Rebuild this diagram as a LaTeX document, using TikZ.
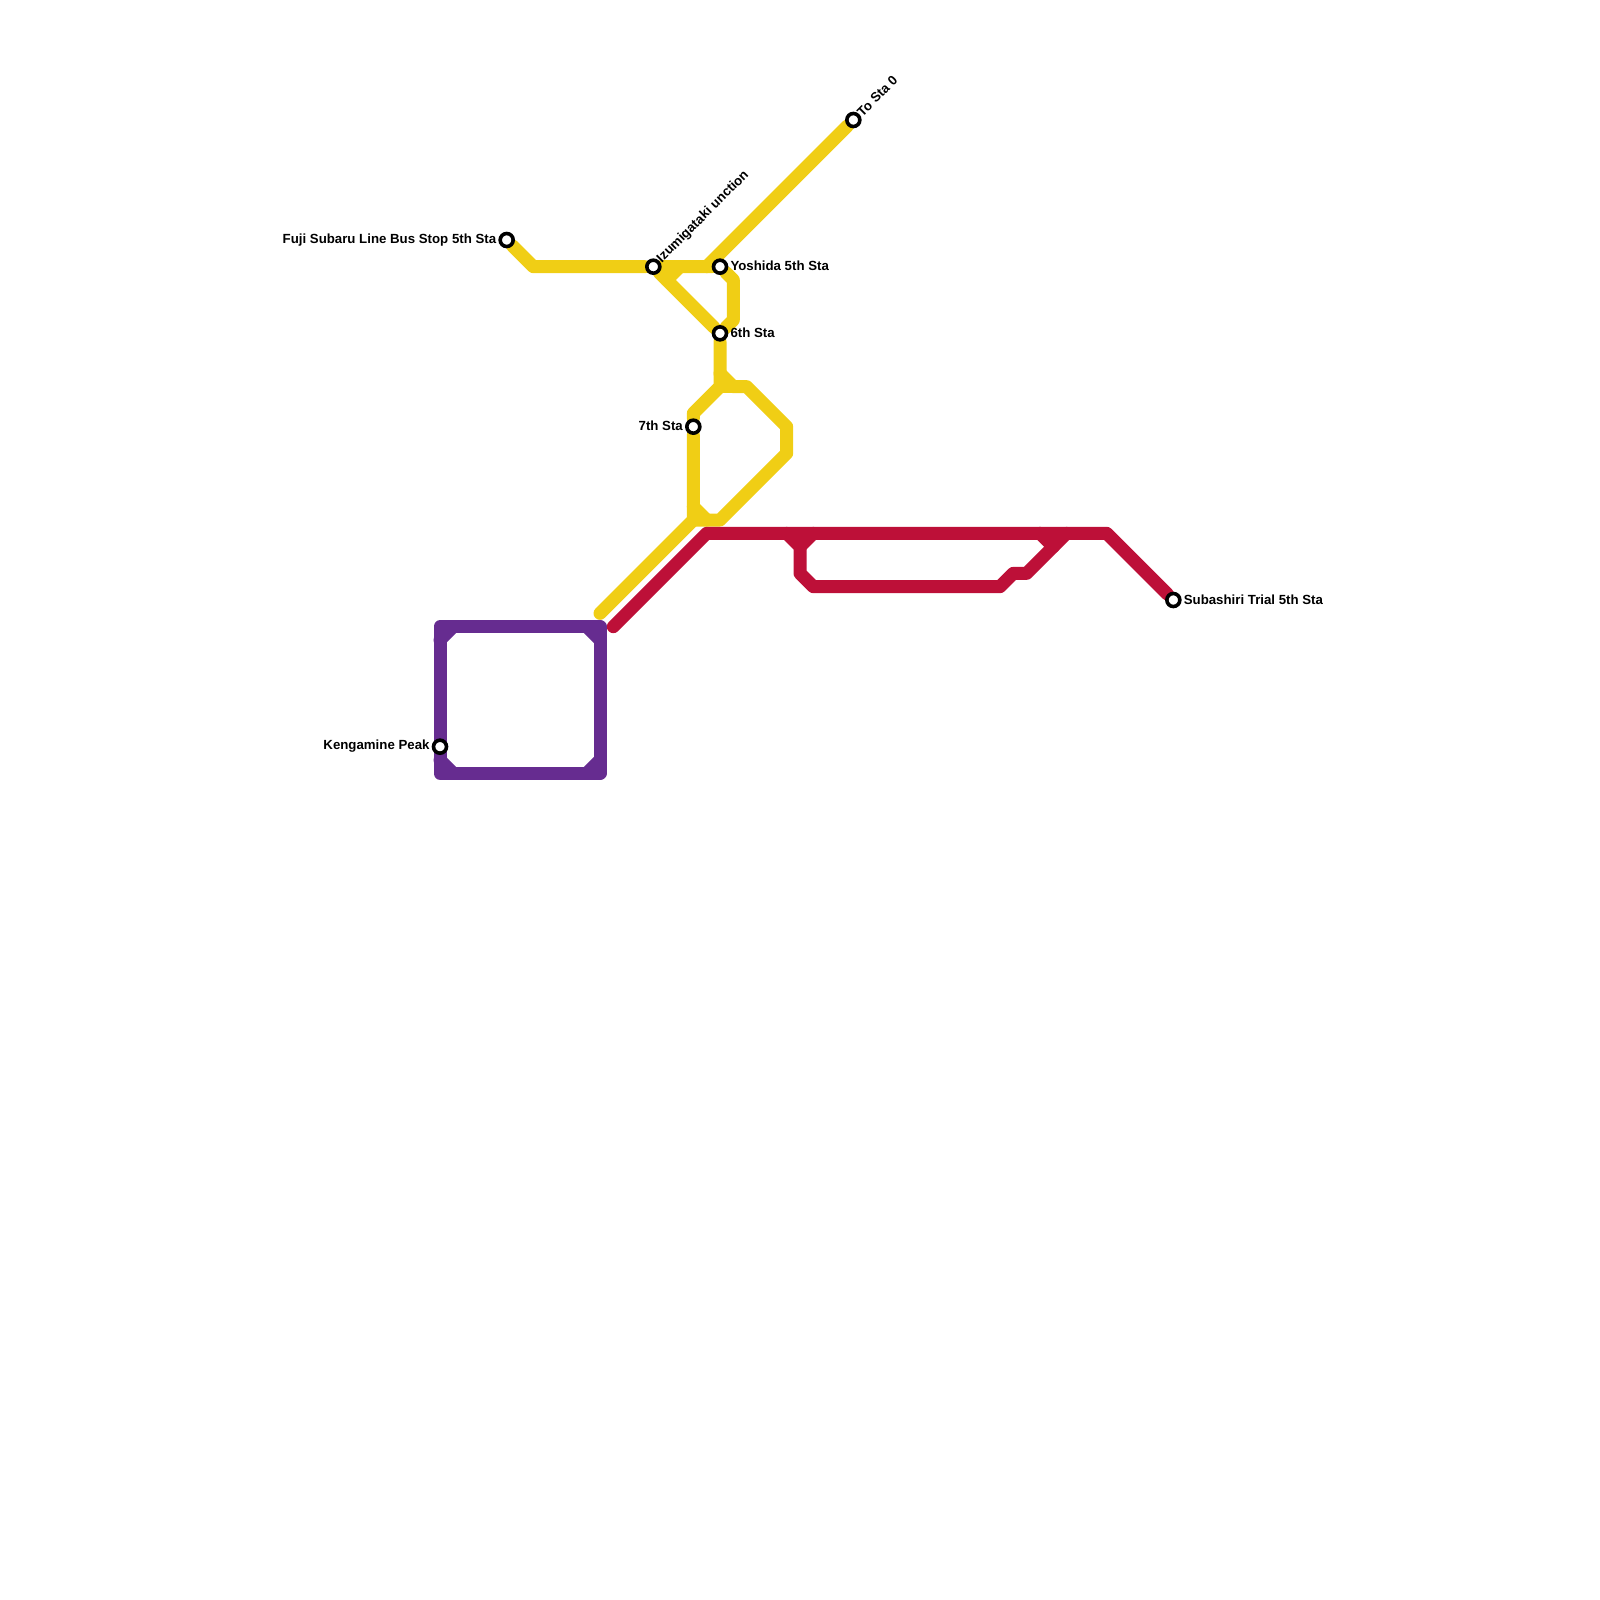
\documentclass[tikz,border=0pt]{standalone}
\usepackage{fontspec}
\setmainfont{Liberation Sans}
\usetikzlibrary{positioning,backgrounds}
\tikzset{
	station/.style={
		draw=black, circle, fill=white, line width=3.6pt,
		minimum size=13pt, inner sep=0pt
	},
	stationlabel/.style={
		inner sep=0pt, text=black, font=\bfseries\fontsize{13.25}{13.25}\selectfont
	},
	transit/.style={line width=13pt, line cap=round, line join=round},
	yellowline/.style={transit, draw=lineyellow},
	redline/.style={transit, draw=linered},
	purpleline/.style={transit, draw=linepurple}
}
\definecolor{lineyellow}{HTML}{F0CE15}
\definecolor{linered}{HTML}{BD1038}
\definecolor{linepurple}{HTML}{662C90}
\begin{document}
\begin{tikzpicture}[x=13.3333pt,y=-13.3333pt]
	\useasboundingbox (0,0) rectangle (120,120);
	\node[station] (fuji) at (38,18) {};
	\node[station] (izumi) at (49,20) {};
	\node[station] (yoshida) at (54,20) {};
	\node[station] (sixth) at (54,25) {};
	\node[station] (seventh) at (52,32) {};
	\node[station] (tosta) at (64,9) {};
	\node[station] (kengamine) at (33,56) {};
	\node[station] (subashiri) at (88,45) {};
	\node[stationlabel,left=2pt of fuji] (fujilabel) {Fuji Subaru Line Bus Stop 5th Sta};
	\node[stationlabel,rotate=45,anchor=west] (izumilabel) at (izumi.45) {Izumigataki unction};
	\node[stationlabel,right=2pt of yoshida,yshift=0.5pt] (yoshidalabel) {Yoshida 5th Sta};
	\node[stationlabel,right=2pt of sixth,yshift=0.5pt] (sixthlabel) {6th Sta};
	\node[stationlabel,left=2pt of seventh,yshift=0.5pt] (seventhlabel) {7th Sta};
	\node[stationlabel,rotate=45,anchor=west] (tostalabel) at (tosta.45) {To Sta 0};
	\node[stationlabel,left=2pt of kengamine,yshift=0.5pt] (kengaminelabel) {Kengamine Peak};
	\node[stationlabel,right=2pt of subashiri] (subashirilabel) {Subashiri Trial 5th Sta};
	% free ends of the lines
	\coordinate (yfork) at (53,20);
	\coordinate (yjoin) at (54,29);
	\coordinate (ytail) at (45,46);
	\coordinate (yfoot) at (52,39);
	\coordinate (rstart) at (46,47);
	\coordinate (rbend) at (53,40);
	\coordinate (rturn) at (83,40);
	\coordinate (rleft) at (59,40);
	\coordinate (rright) at (78,40);
	\coordinate (pnw) at (33,47);
	\coordinate (pne) at (45,47);
	\coordinate (pse) at (45,58);
	\coordinate (psw) at (33,58);
	\begin{scope}[on background layer]
		\draw[yellowline] (fuji) -- (40,20) -- (izumi) -- (yoshida) -- (55,21) -- (55,24) -- (sixth) -- (izumi);
		\draw[yellowline] (yfork) -- (tosta);
		\draw[yellowline] (50,21) -- (51,20);
		\draw[yellowline] (sixth) -- (yjoin) -- (52,31) -- (seventh) -- (yfoot) -- (ytail);
		\draw[yellowline] (54,28) -- (55,29) -- (56,29) -- (59,32) -- (59,34) -- (54,39) -- (53,39) -- (yfoot);
		\draw[yellowline] (yjoin) -- (55,29);
		\draw[yellowline] (52,38) -- (53,39);
		\draw[redline] (rstart) -- (rbend) -- (rturn) -- (subashiri);
		\draw[redline] (rleft) -- (60,41) -- (60,43) -- (61,44) -- (75,44) -- (76,43) -- (77,43) -- (80,40);
		\draw[redline] (61,40) -- (60,41);
		\draw[redline] (rright) -- (79,41);
		\draw[purpleline] (pnw) -- (pne) -- (pse) -- (psw) -- (pnw) -- cycle;
		\draw[purpleline] (33,48) -- (34,47);
		\draw[purpleline] (44,47) -- (45,48);
		\draw[purpleline] (44,58) -- (45,57);
		\draw[purpleline] (33,57) -- (34,58);
	\end{scope}
\end{tikzpicture}
\end{document}
